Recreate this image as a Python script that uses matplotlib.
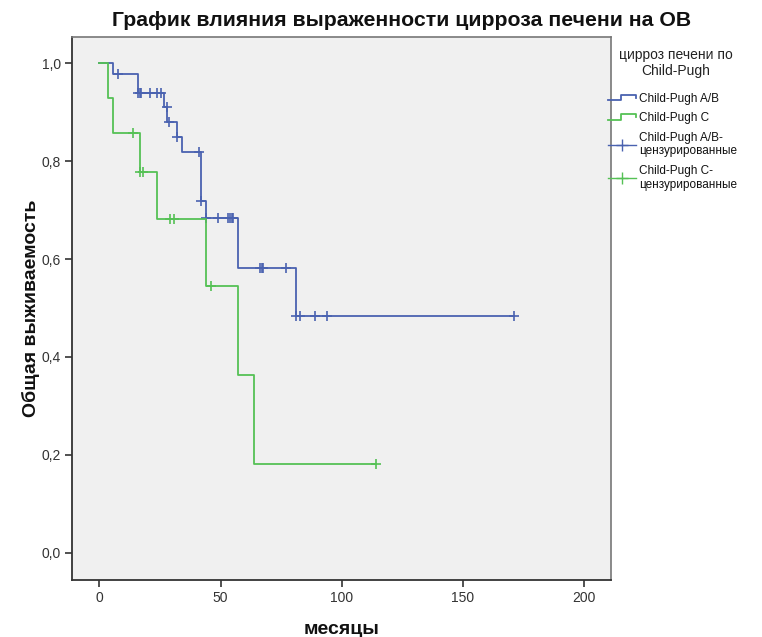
import numpy as np
import matplotlib
matplotlib.use("Agg")
import matplotlib.pyplot as plt
from matplotlib.lines import Line2D
from matplotlib.legend_handler import HandlerLine2D

plt.rcParams["font.family"] = ["Liberation Sans", "DejaVu Sans"]

# Kaplan-Meier estimates: event times (months) and survival after each event
ab_event_times = [5.8, 16.1, 26.7, 28.1, 31.9, 34.0, 41.8, 44.0, 57.1, 81.0]
ab_survival = [0.978, 0.939, 0.910, 0.881, 0.849, 0.819, 0.719, 0.685, 0.581, 0.484]
ab_censored = [7.7, 16.1, 16.6, 17.1, 20.9, 23.7, 25.3, 27.8, 28.8, 31.9, 41.3,
               41.8, 44.0, 48.9, 53.0, 53.8, 54.6, 55.3, 66.3, 66.9, 67.4, 77.0,
               81.2, 82.8, 89.0, 93.8, 171.1]

c_event_times = [3.7, 5.8, 16.8, 23.9, 43.9, 57.1, 64.0]
c_survival = [0.929, 0.857, 0.779, 0.682, 0.545, 0.364, 0.182]
c_censored = [13.8, 16.8, 18.2, 29.2, 30.8, 46.0, 114.0]

group_labels = ["Child-Pugh A/B", "Child-Pugh C"]
censored_labels = ["Child-Pugh A/B-\nцензурированные", "Child-Pugh C-\nцензурированные"]
legend_title = "цирроз печени по\nChild-Pugh"

x_ticks = [0, 50, 100, 150, 200]
y_ticks = [0.0, 0.2, 0.4, 0.6, 0.8, 1.0]
y_tick_labels = ["0,0", "0,2", "0,4", "0,6", "0,8", "1,0"]

title = "График влияния выраженности цирроза печени на ОВ"
x_label = "месяцы"
y_label = "Общая выживаемость"

BLUE = "#4A62B0"
GREEN = "#55C155"


def km_curve(times, surv, censored):
    t_end = max(max(times), max(censored))
    x = np.concatenate([[0.0], times, [t_end]])
    y = np.concatenate([[1.0], surv, [surv[-1]]])
    levels = np.concatenate([[1.0], surv])
    idx = np.searchsorted(np.asarray(times), np.asarray(censored), side="right")
    return x, y, np.asarray(censored), levels[idx]


class StepHandler(HandlerLine2D):
    def create_artists(self, legend, orig_handle, xdescent, ydescent,
                       width, height, fontsize, trans):
        x0 = -xdescent
        lo = -ydescent + height * 0.2
        hi = -ydescent + height * 0.85
        xs = [x0, x0 + width * 0.45, x0 + width * 0.45, x0 + width, x0 + width]
        ys = [lo, lo, hi, hi, hi - height * 0.35]
        line = Line2D(xs, ys, color=orig_handle.get_color(),
                      linewidth=orig_handle.get_linewidth())
        line.set_transform(trans)
        return [line]


fig = plt.figure(figsize=(7.62, 6.37), dpi=100)
fig.patch.set_facecolor("white")
ax = fig.add_axes([72 / 762, 1 - 580 / 637, 539 / 762, 543 / 637])
ax.set_facecolor("#F0F0F0")

handles = []
for (times, surv, cens), color in zip(
        [(ab_event_times, ab_survival, ab_censored),
         (c_event_times, c_survival, c_censored)], [BLUE, GREEN]):
    x, y, cx, cy = km_curve(times, surv, cens)
    line, = ax.step(x, y, where="post", color=color, linewidth=1.3)
    ax.plot(cx, cy, linestyle="none", marker="+", markersize=6.5,
            markeredgewidth=1.2, color=color)
    handles.append(line)

cens_handles = [Line2D([], [], color=c, linewidth=1.0, marker="+",
                       markersize=9, markeredgewidth=1.0) for c in (BLUE, GREEN)]

ax.set_xlim(-11.3, 211.1)
ax.set_ylim(-0.056, 1.054)
ax.set_xticks(x_ticks)
ax.set_xticklabels([str(v) for v in x_ticks])
ax.set_yticks(y_ticks)
ax.set_yticklabels(y_tick_labels)
ax.tick_params(direction="out", length=5, width=1.2, labelsize=10,
               colors="#333333", pad=3)

for side in ("left", "bottom"):
    ax.spines[side].set_color("#333333")
    ax.spines[side].set_linewidth(1.3)
for side in ("top", "right"):
    ax.spines[side].set_color("#777777")
    ax.spines[side].set_linewidth(1.2)

ax.set_xlabel(x_label, fontsize=14, fontweight="bold", color="#111111")
ax.xaxis.set_label_coords(0.5, -0.075)
ax.set_ylabel(y_label, fontsize=14, fontweight="bold", color="#111111")
ax.yaxis.set_label_coords(-0.06, 0.50)

fig.text(402 / 762, 1 - 20 / 637, title, fontsize=15.3, fontweight="bold",
         ha="center", va="center", color="#111111")

# legend title drawn separately so its gap to the entries can be set freely
fig.text(676 / 762, 1 - 63 / 637, legend_title, fontsize=10, ha="center",
         va="center", multialignment="center", linespacing=1.15,
         color="#222222")

leg = ax.legend(handles + cens_handles, group_labels + censored_labels,
                loc="upper left", bbox_to_anchor=(608 / 762, 1 - 93 / 637),
                bbox_transform=fig.transFigure, frameon=False,
                fontsize=8.5, handlelength=2.4, handletextpad=0.25,
                labelspacing=0.62, borderaxespad=0.0, borderpad=0.0,
                handler_map={h: StepHandler() for h in handles})
for t in leg.get_texts():
    t.set_color("#111111")

fig.savefig("out.png", dpi=100)
